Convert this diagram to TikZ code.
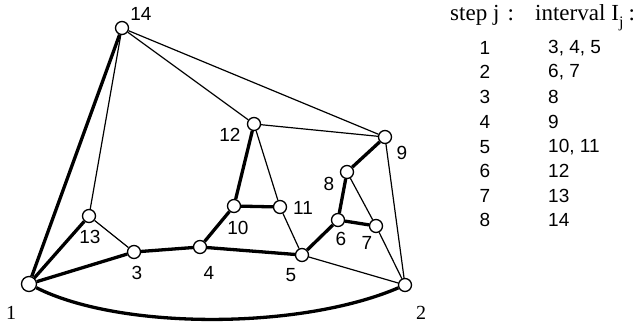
\documentclass[tikz,border=0pt]{standalone}
\usepackage{fontspec}
\setmainfont{Liberation Sans}
\newfontfamily\serifpart{Liberation Serif}
\begin{document}
\begin{tikzpicture}[x=1pt,y=-1pt,
  vertex/.style={circle,draw,fill=white,minimum size=13pt,inner sep=0pt,line width=1.3pt},
  bigvertex/.style={vertex,minimum size=15pt},
  lab/.style={inner sep=0pt,font=\fontsize{19}{22}\selectfont},
  slab/.style={inner sep=0pt,font=\serifpart\fontsize{20}{22}\selectfont},
  thickedge/.style={line width=3.3pt},
  thinedge/.style={line width=1.2pt},
  tab/.style={inner sep=0pt,font=\fontsize{19}{22}\selectfont},
  head/.style={inner sep=0pt,anchor=base west,font=\serifpart\fontsize{23}{25}\selectfont}]
\useasboundingbox (0,0) rectangle (641,326);
% vertices
\node[bigvertex] (n1) at (29,284) {};
\node[vertex] (n2) at (405,285) {};
\node[vertex] (n3) at (134,252) {};
\node[vertex] (n4) at (200,247) {};
\node[vertex] (n5) at (302,255) {};
\node[vertex] (n6) at (338,220) {};
\node[vertex] (n7) at (376,226) {};
\node[vertex] (n8) at (347,172) {};
\node[vertex] (n9) at (385,137) {};
\node[vertex] (n10) at (234,206) {};
\node[vertex] (n11) at (280,207) {};
\node[vertex] (n12) at (254,124) {};
\node[vertex] (n13) at (89,216) {};
\node[vertex] (n14) at (122,28) {};
% thick edges
\draw[thickedge] (n1) -- (n14);
\draw[thickedge] (n1) -- (n13);
\draw[thickedge] (n1) -- (n3);
\draw[thickedge] (n3) -- (n4);
\draw[thickedge] (n4) -- (n5);
\draw[thickedge] (n1) .. controls (120,330) and (300,330) .. (n2);
\draw[thickedge] (n4) -- (n10);
\draw[thickedge] (n10) -- (n11);
\draw[thickedge] (n10) -- (n12);
\draw[thickedge] (n5) -- (n6);
\draw[thickedge] (n6) -- (n7);
\draw[thickedge] (n6) -- (n8);
\draw[thickedge] (n8) -- (n9);
% thin edges
\draw[thinedge] (n14) -- (n13);
\draw[thinedge] (n14) -- (n12);
\draw[thinedge] (n14) -- (n9);
\draw[thinedge] (n12) -- (n9);
\draw[thinedge] (n12) -- (n11);
\draw[thinedge] (n11) -- (n5);
\draw[thinedge] (n13) -- (n3);
\draw[thinedge] (n5) -- (n2);
\draw[thinedge] (n7) -- (n2);
\draw[thinedge] (n8) -- (n7);
\draw[thinedge] (n9) -- (n2);
% labels
\node[slab] (l1) at (11,313) {1};
\node[slab] (l2) at (421,313) {2};
\node[lab] (l3) at (137,273) {3};
\node[lab] (l4) at (209,273) {4};
\node[lab] (l5) at (291,275) {5};
\node[lab] (l6) at (341,239) {6};
\node[lab] (l7) at (367,243) {7};
\node[lab] (l8) at (329,184) {8};
\node[lab] (l9) at (402,153) {9};
\node[lab] (l10) at (238,228) {10};
\node[lab] (l11) at (303,208) {11};
\node[lab] (l12) at (230,135) {12};
\node[lab] (l13) at (90,237) {13};
\node[lab] (l14) at (141,14) {14};
% table header
\node[head] (h1) at (450,21) {step\hspace{6pt}j\hspace{8pt}:};
\node[head] (h2) at (535,21) {interval\hspace{6pt}I\raisebox{-7pt}{\fontsize{16}{16}\selectfont j}\hspace{5pt}:};
% table rows
\foreach \s/\v/\y in {1/{3, 4, 5}/48, 2/{6, 7}/72, 3/8/97, 4/9/122, 5/{10, 11}/147, 6/12/171, 7/13/196, 8/14/220}{
  \node[tab] (s\s) at (485,\y) {\s};
  \node[tab,anchor=west] (v\s) at (548,\y) {\v};
}
\end{tikzpicture}
\end{document}
